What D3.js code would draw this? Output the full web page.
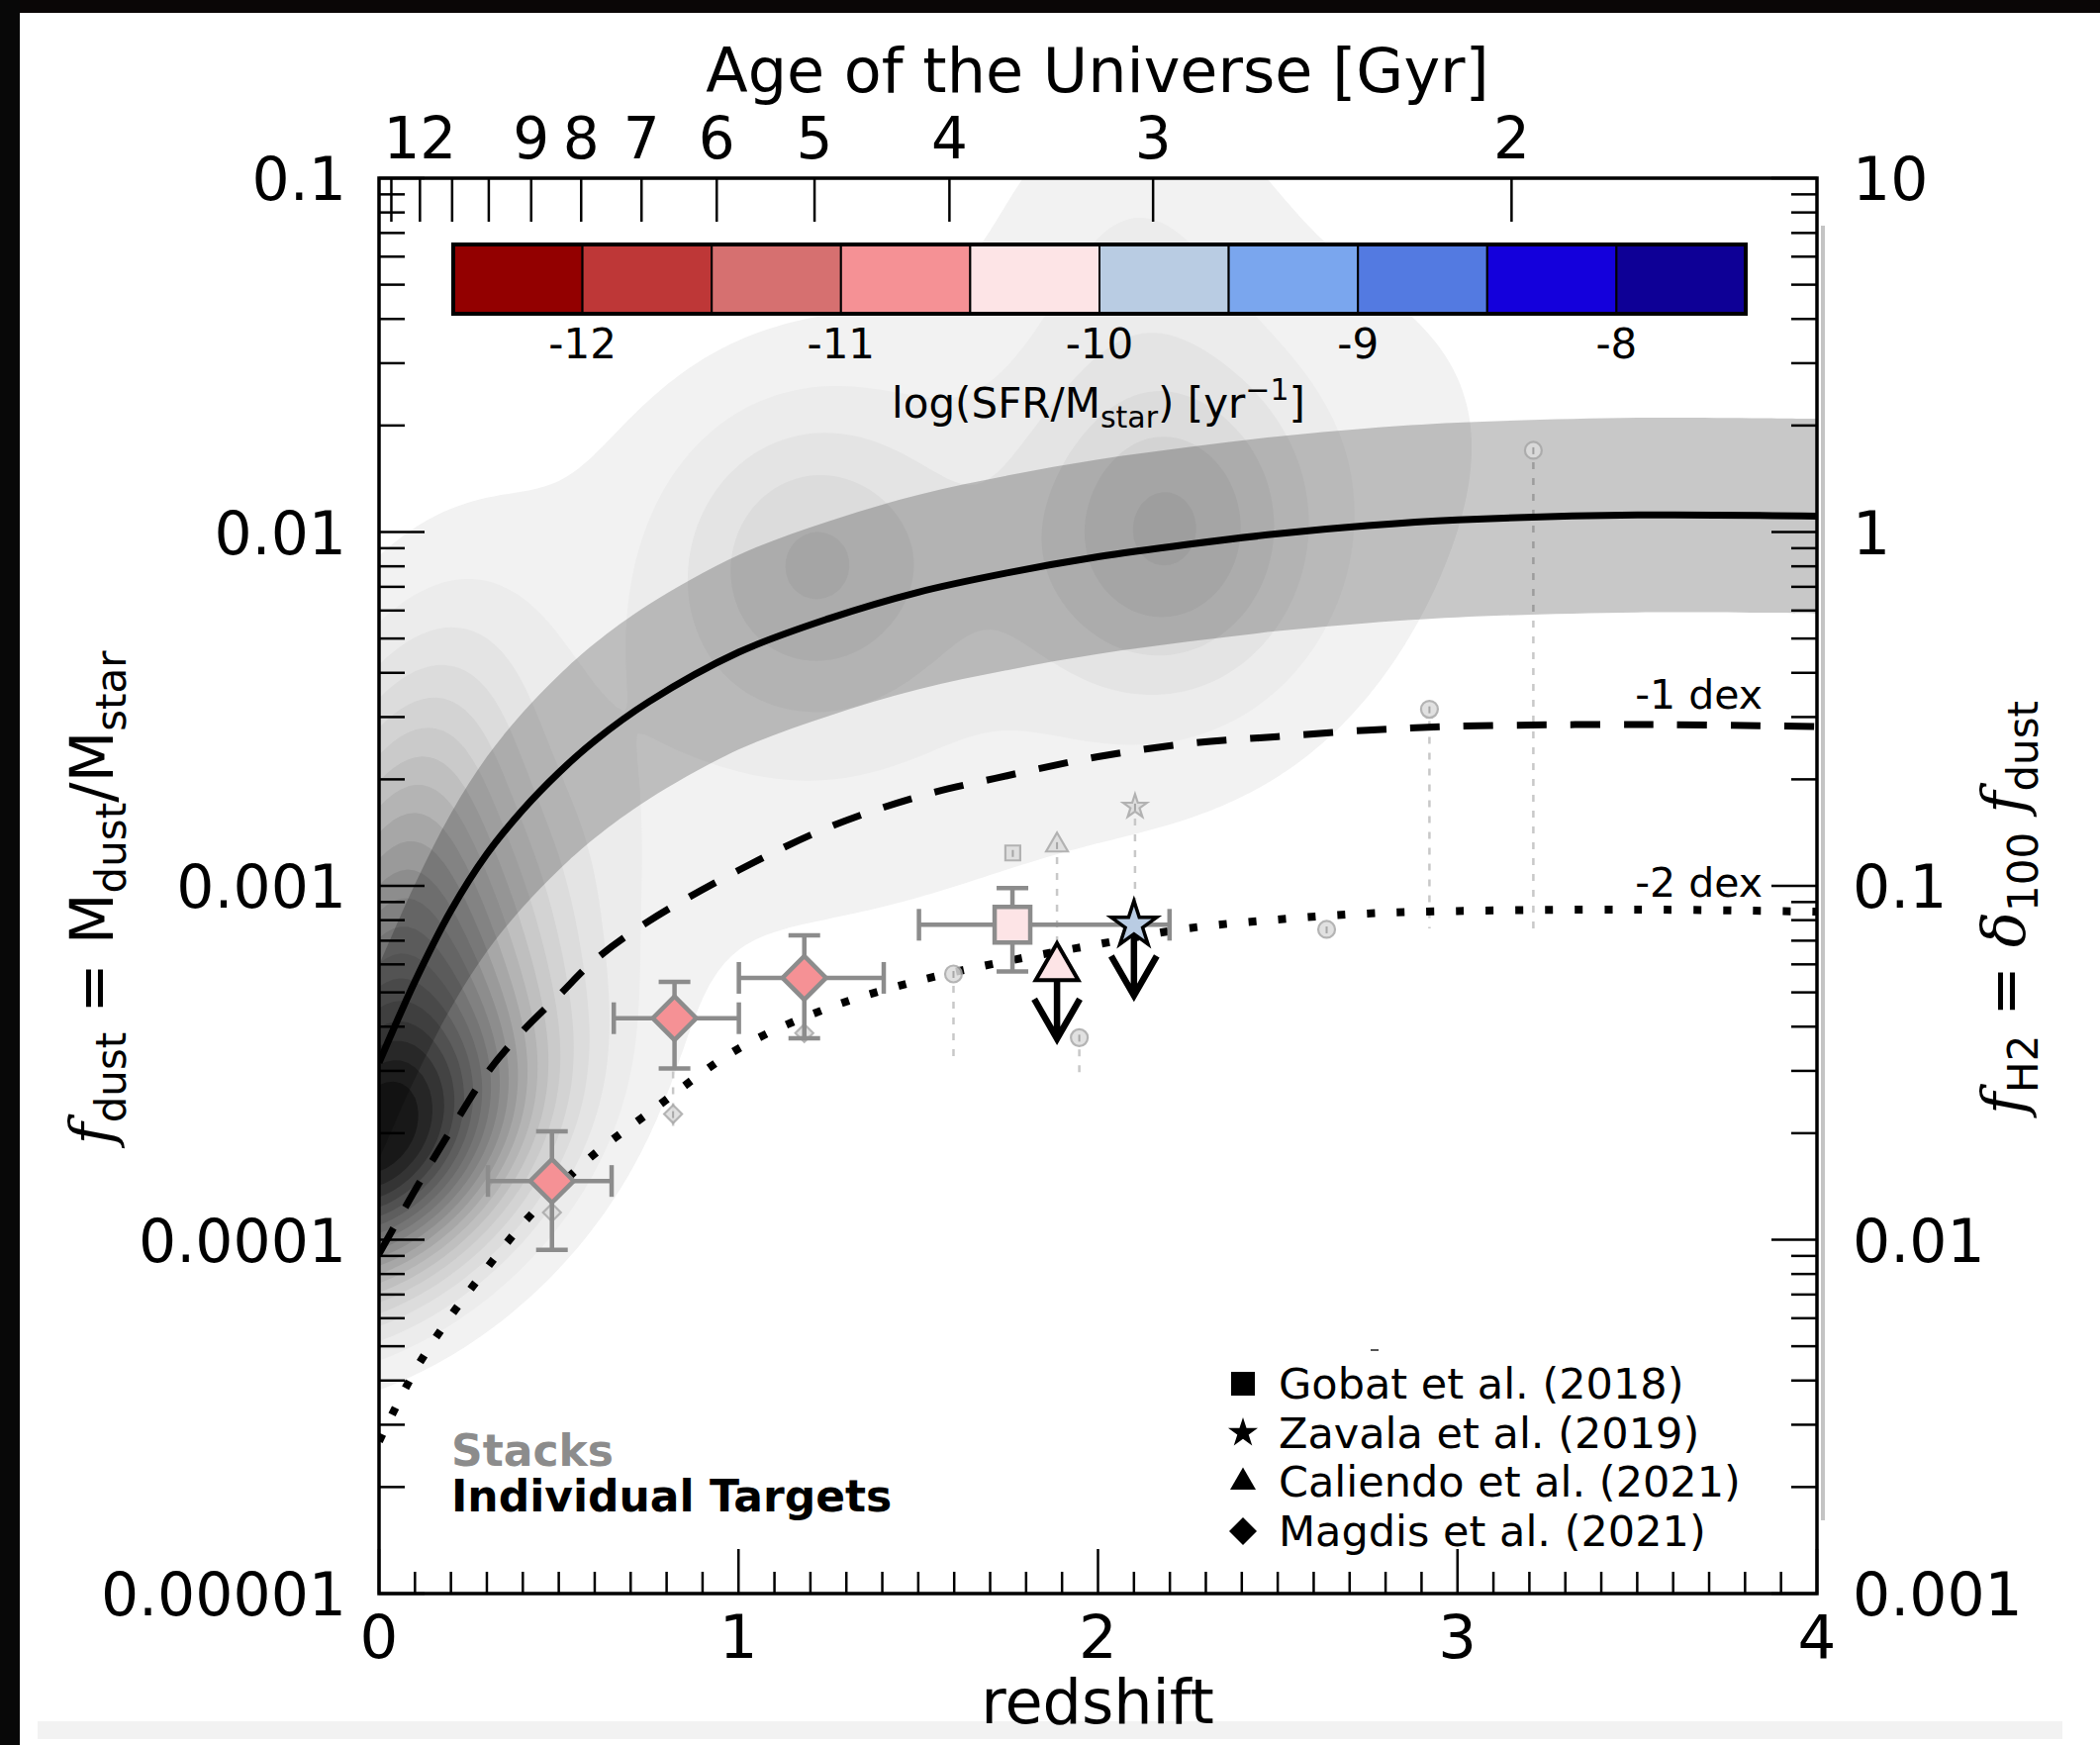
<!DOCTYPE html>
<html>
<head>
<meta charset="utf-8">
<script src="https://cdn.jsdelivr.net/npm/d3@7"></script>
<style>
html, body { margin: 0; padding: 0; background: #fff; }
svg { display: block; font-family: "DejaVu Sans", sans-serif; }
</style>
</head>
<body>
<svg id="chart" width="2122" height="1763"></svg>
<script>
// ---------------- data ----------------
// model curves, log10(f_dust) sampled in redshift
const curveZ       = [0, 0.1, 0.2, 0.3, 0.4, 0.5, 0.6, 0.75, 1.0, 1.25, 1.5, 1.75, 2.0, 2.25, 2.5, 2.75, 3.0, 3.5, 4.0];
const logFModel    = [-3.50, -3.27, -3.07, -2.91, -2.785, -2.68, -2.59, -2.48, -2.34, -2.245, -2.17, -2.115, -2.07, -2.035, -2.005, -1.982, -1.966, -1.952, -1.955];
const logFMinus1   = [-4.04, -3.86, -3.69, -3.53, -3.41, -3.31, -3.21, -3.10, -2.956, -2.835, -2.748, -2.688, -2.635, -2.598, -2.578, -2.560, -2.549, -2.544, -2.55];
const logFMinus2   = [-4.57, -4.37, -4.215, -4.08, -3.955, -3.85, -3.757, -3.642, -3.46, -3.345, -3.268, -3.212, -3.165, -3.12, -3.095, -3.078, -3.071, -3.067, -3.073];
const bandHalfDex  = 0.275;

// galaxy density field (sum of 2D gaussians in z / log f_dust)
const kdeZ      = [0.00, 0.05, 0.05, 1.20, 2.20, 2.10, 1.60];
const kdeLogF   = [-3.79, -3.35, -2.85, -2.07, -2.00, -1.15, -2.20];
const kdeSigZ   = [0.31, 0.30, 0.22, 0.27, 0.27, 0.25, 1.20];
const kdeSigF   = [0.29, 0.35, 0.40, 0.30, 0.32, 0.35, 0.78];
const kdeRho    = [0.4, 0.4, 0.4, 0.0, 0.0, 0.0, 0.5];
const kdeWeight = [0.80, 0.45, 0.30, 0.17, 0.22, 0.06, 0.10];
const kdeLevels = d3.range(1, 30).map(k => k * 0.05);

// individual targets
const magdisZ      = [0.481, 0.822, 1.183];
const magdisZLo    = [0.303, 0.653, 1.001];
const magdisZHi    = [0.647, 1.001, 1.404];
const magdisLogF   = [-3.834, -3.374, -3.260];
const magdisLogFLo = [-4.029, -3.516, -3.431];
const magdisLogFHi = [-3.694, -3.271, -3.140];
const magdisSSFR   = [-10.75, -10.8, -10.7];

const gobatZ = 1.762, gobatZLo = 1.502, gobatZHi = 2.199;
const gobatLogF = -3.110, gobatLogFLo = -3.242, gobatLogFHi = -3.006, gobatSSFR = -10.2;

const caliendoZ = 1.886, caliendoLogF = -3.232, caliendoSSFR = -10.25;
const zavalaZ = 2.100, zavalaLogF = -3.110, zavalaSSFR = -9.8;
const limitArrowDex = 0.2;

// stacked measurements
const stackShape  = ["diamond", "diamond", "diamond", "square", "triangle", "star", "circle", "circle", "circle", "circle", "circle"];
const stackZ      = [0.481, 0.818, 1.183, 1.763, 1.886, 2.103, 1.598, 1.948, 2.636, 2.922, 3.211];
const stackLogF   = [-3.923, -3.645, -3.416, -2.907, -2.885, -2.776, -3.249, -3.429, -3.123, -2.501, -1.769];
const stackLineTo = [null, -3.52, null, null, -3.17, -3.06, -3.50, -3.53, null, -3.12, -3.12];

// colour bar: log(SFR/Mstar)
const cbarEdges  = [-12.5, -12, -11.5, -11, -10.5, -10, -9.5, -9, -8.5, -8, -7.5];
const cbarColors = ["#930000", "#be3737", "#d67070", "#f59195", "#fde4e6", "#b9cce3", "#7aa6ee", "#537ae1", "#1400dc", "#0e0096"];
const cbarTicks  = [-12, -11, -10, -9, -8];

// axes
const zTicksMajor = [0, 1, 2, 3, 4];
const yTicksMajor = [1e-5, 1e-4, 1e-3, 1e-2, 1e-1];
const yLabelsLeft  = ["0.00001", "0.0001", "0.001", "0.01", "0.1"];
const yLabelsRight = ["0.001", "0.01", "0.1", "1", "10"];
const ageTicks  = [13, 12, 11, 10, 9, 8, 7, 6, 5, 4, 3, 2];
const ageLabels = ["", "12", "", "", "9", "8", "7", "6", "5", "4", "3", "2"];

const legendNames  = ["Gobat et al. (2018)", "Zavala et al. (2019)", "Caliendo et al. (2021)", "Magdis et al. (2021)"];
const legendShapes = ["square", "star", "triangle", "diamond"];

// ---------------- setup ----------------
const W = 2122, H = 1763;
const PL = 383, PR = 1836, PT = 180, PB = 1610;
const x = d3.scaleLinear().domain([0, 4]).range([PL, PR]);
const y = d3.scaleLog().domain([1e-5, 0.1]).range([PB, PT]);
const yl = v => y(Math.pow(10, v));
const sColor = d3.scaleThreshold().domain(cbarEdges.slice(1, -1)).range(cbarColors);

const svg = d3.select("#chart");
svg.append("rect").attr("width", W).attr("height", H).attr("fill", "#fff");

// page edges
svg.append("rect").attr("x", 0).attr("y", 0).attr("width", W).attr("height", 13).attr("fill", "#0a0606");
svg.append("rect").attr("x", 0).attr("y", 0).attr("width", 20).attr("height", H).attr("fill", "#080808");
svg.append("rect").attr("x", 38).attr("y", 1739).attr("width", 2046).attr("height", 18).attr("fill", "#f2f2f2");

const defs = svg.append("defs");
defs.append("clipPath").attr("id", "plotClip")
  .append("rect").attr("x", PL).attr("y", PT).attr("width", PR - PL).attr("height", PB - PT);

const plot = svg.append("g").attr("clip-path", "url(#plotClip)");

// ---------------- density contours ----------------
const g0z = -0.6, g0f = -5.4, step = 0.02;
const nx = Math.round((4.3 - g0z) / step) + 1;
const ny = Math.round((-0.3 - g0f) / step) + 1;
const dens = new Float64Array(nx * ny);
for (let j = 0; j < ny; j++) {
  const lf = g0f + j * step;
  for (let i = 0; i < nx; i++) {
    const z = g0z + i * step;
    let s = 0;
    for (let k = 0; k < kdeZ.length; k++) {
      const a = (z - kdeZ[k]) / kdeSigZ[k];
      const b = (lf - kdeLogF[k]) / kdeSigF[k];
      const r = kdeRho[k];
      s += kdeWeight[k] * Math.exp(-0.5 * (a * a - 2 * r * a * b + b * b) / (1 - r * r));
    }
    dens[j * nx + i] = s;
  }
}
const contours = d3.contours().size([nx, ny]).thresholds(kdeLevels)(dens);
const gridProj = d3.geoTransform({
  point(px, py) { this.stream.point(x(g0z + (px - 0.5) * step), yl(g0f + (py - 0.5) * step)); }
});
const gridPath = d3.geoPath(gridProj);
const levelColor = k => d3.interpolateGreys(Math.min(0.92, 0.1 + 0.82 * k / 19));
plot.append("g").selectAll("path").data(contours).join("path")
  .attr("d", gridPath)
  .attr("fill", (d, k) => levelColor(k))
  .attr("stroke", "none");

// ---------------- stack guide lines ----------------
plot.append("g").selectAll("line")
  .data(stackZ.map((z, i) => ({ z, f: stackLogF[i], to: stackLineTo[i] })).filter(d => d.to !== null))
  .join("line")
  .attr("x1", d => x(d.z)).attr("x2", d => x(d.z))
  .attr("y1", d => yl(d.f) + 12).attr("y2", d => yl(d.to))
  .attr("stroke", "#c8c8c8").attr("stroke-width", 2.5).attr("stroke-dasharray", "7,9");

// ---------------- model band and curves ----------------
const modelPts = curveZ.map((z, i) => ({ z, f: logFModel[i] }));
plot.append("path").datum(modelPts)
  .attr("d", d3.area().curve(d3.curveCatmullRom)
    .x(d => x(d.z)).y0(d => yl(d.f - bandHalfDex)).y1(d => yl(d.f + bandHalfDex)))
  .attr("fill", "#000").attr("fill-opacity", 0.215);

const line = d3.line().curve(d3.curveCatmullRom).x(d => x(d.z)).y(d => yl(d.f));
plot.append("path").datum(modelPts).attr("d", line)
  .attr("fill", "none").attr("stroke", "#000").attr("stroke-width", 7);
plot.append("path").datum(curveZ.map((z, i) => ({ z, f: logFMinus1[i] }))).attr("d", line)
  .attr("fill", "none").attr("stroke", "#000").attr("stroke-width", 7).attr("stroke-dasharray", "30,24");
plot.append("path").datum(curveZ.map((z, i) => ({ z, f: logFMinus2[i] }))).attr("d", line)
  .attr("fill", "none").attr("stroke", "#000").attr("stroke-width", 8).attr("stroke-dasharray", "8,22");

// ---------------- colour bar ----------------
const cbX0 = 458, cbX1 = 1764, cbY0 = 247, cbY1 = 317;
const cb = d3.scaleLinear().domain([-12.5, -7.5]).range([cbX0, cbX1]);
const cbG = svg.append("g");
cbG.selectAll("rect.seg").data(cbarColors).join("rect").attr("class", "seg")
  .attr("x", (d, i) => cb(cbarEdges[i])).attr("y", cbY0)
  .attr("width", (d, i) => cb(cbarEdges[i + 1]) - cb(cbarEdges[i])).attr("height", cbY1 - cbY0)
  .attr("fill", d => d).attr("stroke", "#000").attr("stroke-width", 2);
cbG.append("rect").attr("x", cbX0).attr("y", cbY0).attr("width", cbX1 - cbX0).attr("height", cbY1 - cbY0)
  .attr("fill", "none").attr("stroke", "#000").attr("stroke-width", 4);
cbG.selectAll("text.tick").data(cbarTicks).join("text").attr("class", "tick")
  .attr("x", d => cb(d)).attr("y", 362).attr("text-anchor", "middle")
  .style("font-size", "42px").text(d => "-" + Math.abs(d));
const cbLab = cbG.append("text").attr("x", 1110).attr("y", 422).attr("text-anchor", "middle").style("font-size", "42px");
cbLab.append("tspan").text("log(SFR/M");
cbLab.append("tspan").attr("dy", 10).style("font-size", "30px").text("star");
cbLab.append("tspan").attr("dy", -10).text(") [yr");
cbLab.append("tspan").attr("dy", -18).style("font-size", "30px").text("\u22121");
cbLab.append("tspan").attr("dy", 18).text("]");

// ---------------- symbols ----------------
function shapePath(shape, size) {
  if (shape === "diamond") {
    const h = size / 2;
    return `M0,${-h}L${h},0L0,${h}L${-h},0Z`;
  }
  if (shape === "square") { const h = size / 2; return `M${-h},${-h}H${h}V${h}H${-h}Z`; }
  if (shape === "triangle") return d3.symbol(d3.symbolTriangle, size * size * 0.433)();
  if (shape === "star") return d3.symbol(d3.symbolStar, Math.pow(size / 1.902, 2) / 0.8908130915)();
  return d3.symbol(d3.symbolCircle, Math.PI * size * size / 4)();
}

// stacked points
const stackSize = { diamond: 18, square: 15, triangle: 22, star: 24, circle: 17 };
const stG = svg.append("g").attr("clip-path", "url(#plotClip)");
stackZ.forEach((z, i) => {
  const g = stG.append("g").attr("transform", `translate(${x(z)},${yl(stackLogF[i])})`).attr("opacity", 0.85);
  g.append("path").attr("d", shapePath(stackShape[i], stackSize[stackShape[i]]))
    .attr("fill", "#dcdcdc").attr("stroke", "#a8a8a8").attr("stroke-width", 2.2);
  g.append("line").attr("x1", 0).attr("x2", 0).attr("y1", -3).attr("y2", 4).attr("stroke", "#999").attr("stroke-width", 2);
});

// error bars helper
const errG = svg.append("g").attr("clip-path", "url(#plotClip)");
function errorBars(z, zLo, zHi, f, fLo, fHi) {
  const c = "#8c8c8c", w = 4.5, cap = 16;
  const cx = x(z), cy = yl(f);
  errG.append("line").attr("x1", x(zLo)).attr("x2", x(zHi)).attr("y1", cy).attr("y2", cy).attr("stroke", c).attr("stroke-width", w);
  errG.append("line").attr("x1", cx).attr("x2", cx).attr("y1", yl(fLo)).attr("y2", yl(fHi)).attr("stroke", c).attr("stroke-width", w);
  [x(zLo), x(zHi)].forEach(px => errG.append("line").attr("x1", px).attr("x2", px).attr("y1", cy - cap).attr("y2", cy + cap).attr("stroke", c).attr("stroke-width", w));
  [yl(fLo), yl(fHi)].forEach(py => errG.append("line").attr("x1", cx - cap).attr("x2", cx + cap).attr("y1", py).attr("y2", py).attr("stroke", c).attr("stroke-width", w));
}
magdisZ.forEach((z, i) => errorBars(z, magdisZLo[i], magdisZHi[i], magdisLogF[i], magdisLogFLo[i], magdisLogFHi[i]));
errorBars(gobatZ, gobatZLo, gobatZHi, gobatLogF, gobatLogFLo, gobatLogFHi);

// upper-limit arrows
function limitArrow(z, f) {
  const cx = x(z), y0 = yl(f), y1 = yl(f - limitArrowDex);
  errG.append("path")
    .attr("d", `M${cx},${y0 + 8}V${y1 - 2}M${cx - 23},${y1 - 40}L${cx},${y1}L${cx + 23},${y1 - 40}`)
    .attr("fill", "none").attr("stroke", "#000").attr("stroke-width", 6.5).attr("stroke-linejoin", "miter");
}
limitArrow(caliendoZ, caliendoLogF);
limitArrow(zavalaZ, zavalaLogF);

// individual markers
const mkG = svg.append("g");
function marker(shape, z, f, size, fill, edge, ew) {
  mkG.append("path").attr("d", shapePath(shape, size))
    .attr("transform", `translate(${x(z)},${yl(f)})`)
    .attr("fill", fill).attr("stroke", edge).attr("stroke-width", ew).attr("stroke-linejoin", "miter");
}
magdisZ.forEach((z, i) => marker("diamond", z, magdisLogF[i], 44, sColor(magdisSSFR[i]), "#8c8c8c", 4.5));
marker("square", gobatZ, gobatLogF, 36, sColor(gobatSSFR), "#8c8c8c", 4.5);
marker("triangle", caliendoZ, caliendoLogF, 43, sColor(caliendoSSFR), "#000", 4);
marker("star", zavalaZ, zavalaLogF, 46, sColor(zavalaSSFR), "#000", 3.5);

// ---------------- axes ----------------
const ax = svg.append("g").attr("stroke", "#000");
// bottom ticks
const zMinor = d3.range(0, 41).map(k => k / 10);
zMinor.forEach(v => {
  const major = Math.abs(v - Math.round(v)) < 1e-9;
  ax.append("line").attr("x1", x(v)).attr("x2", x(v)).attr("y1", PB).attr("y2", PB - (major ? 45 : 22)).attr("stroke-width", 2.5);
});
// left / right ticks
for (let e = -5; e < -1; e++) {
  for (let m = 1; m < 10; m++) {
    const v = m * Math.pow(10, e);
    const len = m === 1 ? 46 : 26;
    ax.append("line").attr("x1", PL).attr("x2", PL + len).attr("y1", y(v)).attr("y2", y(v)).attr("stroke-width", 2.5);
    ax.append("line").attr("x1", PR).attr("x2", PR - len).attr("y1", y(v)).attr("y2", y(v)).attr("stroke-width", 2.5);
  }
}
ax.append("line").attr("x1", PL).attr("x2", PL + 46).attr("y1", y(0.1)).attr("y2", y(0.1)).attr("stroke-width", 2.5);
ax.append("line").attr("x1", PR).attr("x2", PR - 46).attr("y1", y(0.1)).attr("y2", y(0.1)).attr("stroke-width", 2.5);

// top axis: age of the Universe (flat LCDM, H0=70, Om=0.3)
const H0 = 70, Om = 0.3;
function ageGyr(z) {
  const OL = 1 - Om, tH = 977.8 / H0;
  return tH * 2 / (3 * Math.sqrt(OL)) * Math.asinh(Math.sqrt(OL / Om) * Math.pow(1 + z, -1.5));
}
function zForAge(t) {
  let lo = 0, hi = 30;
  for (let k = 0; k < 80; k++) { const mid = (lo + hi) / 2; if (ageGyr(mid) > t) lo = mid; else hi = mid; }
  return (lo + hi) / 2;
}
ageTicks.forEach((t, i) => {
  const px = x(zForAge(t));
  ax.append("line").attr("x1", px).attr("x2", px).attr("y1", PT).attr("y2", PT + 44).attr("stroke-width", 2.5);
  if (ageLabels[i]) svg.append("text").attr("x", px).attr("y", 160).attr("text-anchor", "middle").style("font-size", "58px").text(ageLabels[i]);
});

// frame
svg.append("rect").attr("x", PL).attr("y", PT).attr("width", PR - PL).attr("height", PB - PT)
  .attr("fill", "none").attr("stroke", "#000").attr("stroke-width", 3.5);
svg.append("line").attr("x1", 1842).attr("x2", 1842).attr("y1", 228).attr("y2", 1536).attr("stroke", "#c4c4c4").attr("stroke-width", 4);

// tick labels
zTicksMajor.forEach(v => svg.append("text").attr("x", x(v)).attr("y", 1675).attr("text-anchor", "middle").style("font-size", "61px").text(v));
yTicksMajor.forEach((v, i) => {
  svg.append("text").attr("x", 350).attr("y", y(v) + 22).attr("text-anchor", "end").style("font-size", "60px").text(yLabelsLeft[i]);
  svg.append("text").attr("x", 1872).attr("y", y(v) + 22).attr("text-anchor", "start").style("font-size", "60px").text(yLabelsRight[i]);
});

// axis titles
svg.append("text").attr("x", 1109).attr("y", 93).attr("text-anchor", "middle").style("font-size", "62px").text("Age of the Universe [Gyr]");
svg.append("text").attr("x", 1109).attr("y", 1741).attr("text-anchor", "middle").style("font-size", "62px").text("redshift");

const yLab = svg.append("text").attr("transform", "translate(114,907) rotate(-90)").attr("text-anchor", "middle").style("font-size", "60px");
yLab.append("tspan").style("font-family", "DejaVu Serif").style("font-style", "italic").text("f");
yLab.append("tspan").attr("dy", 13).style("font-size", "42px").text("dust");
yLab.append("tspan").attr("dy", -13).text(" = M");
yLab.append("tspan").attr("dy", 13).style("font-size", "42px").text("dust");
yLab.append("tspan").attr("dy", -13).text("/M");
yLab.append("tspan").attr("dy", 13).style("font-size", "42px").text("star");

const y2Lab = svg.append("text").attr("transform", "translate(2046,917) rotate(-90)").attr("text-anchor", "middle").style("font-size", "60px");
y2Lab.append("tspan").style("font-family", "DejaVu Serif").style("font-style", "italic").text("f");
y2Lab.append("tspan").attr("dy", 13).style("font-size", "42px").text("H2");
y2Lab.append("tspan").attr("dy", -13).text(" = ");
y2Lab.append("tspan").style("font-family", "DejaVu Serif").style("font-style", "italic").text("\u03b4");
y2Lab.append("tspan").attr("dy", 13).style("font-size", "42px").text("100");
y2Lab.append("tspan").attr("dy", -13).text(" ");
y2Lab.append("tspan").style("font-family", "DejaVu Serif").style("font-style", "italic").text("f");
y2Lab.append("tspan").attr("dy", 13).style("font-size", "42px").text("dust");

// curve annotations
svg.append("text").attr("x", 1781).attr("y", 716).attr("text-anchor", "end").style("font-size", "41px").text("-1 dex");
svg.append("text").attr("x", 1781).attr("y", 906).attr("text-anchor", "end").style("font-size", "41px").text("-2 dex");

// sample key
svg.append("text").attr("x", 456).attr("y", 1481).style("font-size", "44px").style("font-weight", "bold").attr("fill", "#8c8c8c").text("Stacks");
svg.append("text").attr("x", 456).attr("y", 1527).style("font-size", "44px").style("font-weight", "bold").attr("fill", "#000").text("Individual Targets");

// legend
const legSize = { square: 24, star: 30, triangle: 26, diamond: 28 };
legendNames.forEach((name, i) => {
  const cy = 1398 + i * 49.7;
  svg.append("path").attr("d", shapePath(legendShapes[i], legSize[legendShapes[i]]))
    .attr("transform", `translate(1256,${cy})`).attr("fill", "#000");
  svg.append("text").attr("x", 1292).attr("y", cy + 15).style("font-size", "43px").text(name);
});
svg.append("line").attr("x1", 1385).attr("x2", 1393).attr("y1", 1364).attr("y2", 1364).attr("stroke", "#555").attr("stroke-width", 2);
</script>
</body>
</html>
